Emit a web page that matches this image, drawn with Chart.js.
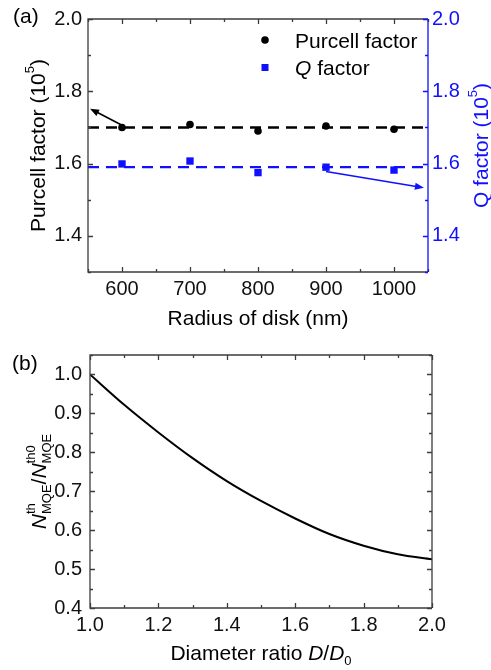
<!DOCTYPE html>
<html>
<head>
<meta charset="utf-8">
<script src="https://cdn.jsdelivr.net/npm/chart.js@4.4.0/dist/chart.umd.min.js"></script>
<style>
	body { margin: 0; background: #fff; }
	.wrap { position: relative; width: 491px; height: 670px; }
	canvas { position: absolute; left: 0; }
	#chartA { top: 0; }
	#chartB { top: 330px; }
</style>
</head>
<body>
<div class="wrap">
	<canvas id="chartA" width="491" height="330"></canvas>
	<canvas id="chartB" width="491" height="340"></canvas>
</div>
<script>
/* panel (a) data */
const radius = [600, 700, 800, 900, 1000]
const purcell = [1.700, 1.708, 1.690, 1.704, 1.695]
const qFactor = [1.599, 1.607, 1.575, 1.590, 1.582]
const purcellLevel = 1.70
const qLevel = 1.59
const radiusRange = [550, 1050]
const radiusTicks = [600, 700, 800, 900, 1000]
const factorRange = [1.3, 2.0]
const factorTicks = [1.4, 1.6, 1.8, 2.0]
const purcellArrow = [600, 1.706, 553, 1.752]
const qArrow = [900, 1.578, 1044, 1.533]

/* panel (b) data */
const ratio = [1.0, 1.1, 1.2, 1.3, 1.4, 1.5, 1.6, 1.7, 1.8, 1.9, 2.0]
const threshold = [1.000, 0.922, 0.851, 0.785, 0.726, 0.675, 0.630, 0.590, 0.560, 0.538, 0.525]
const ratioTicks = [1.0, 1.2, 1.4, 1.6, 1.8, 2.0]
const thresholdRange = [0.4, 1.05]
const thresholdTicks = [0.4, 0.5, 0.6, 0.7, 0.8, 0.9, 1.0]

const FONT = '"Liberation Sans", Arial, sans-serif'
const BLUE = '#1010ff'
const AXIS = '#3c3c3c'

Chart.defaults.font.family = FONT

function setFont(ctx, size, italic) {
	ctx.font = (italic ? 'italic ' : '') + size + 'px ' + FONT
}

// parts: {t, s, it, dy} or stacked {sup, sub, s, up, dn}
function partWidth(ctx, p) {
	if (p.sup !== undefined) {
		setFont(ctx, p.s)
		return Math.max(ctx.measureText(p.sup).width, ctx.measureText(p.sub).width)
	}
	setFont(ctx, p.s, p.it)
	return ctx.measureText(p.t).width
}

function drawRich(ctx, parts, x, y, rot, color, align) {
	ctx.save()
	ctx.translate(x, y)
	ctx.rotate(rot)
	ctx.fillStyle = color
	ctx.textAlign = 'left'
	ctx.textBaseline = 'alphabetic'
	var total = 0
	parts.forEach(function (p) { total += partWidth(ctx, p) })
	var cx = align === 'left' ? 0 : -total / 2
	var base = 7.5
	parts.forEach(function (p) {
		var w = partWidth(ctx, p)
		if (p.sup !== undefined) {
			setFont(ctx, p.s)
			ctx.fillText(p.sup, cx, base + p.up)
			ctx.fillText(p.sub, cx, base + p.dn)
		} else {
			setFont(ctx, p.s, p.it)
			ctx.fillText(p.t, cx, base + (p.dy || 0))
		}
		cx += w
	})
	ctx.restore()
}

function drawArrow(ctx, x0, y0, x1, y1, color) {
	var ang = Math.atan2(y1 - y0, x1 - x0)
	var c = Math.cos(ang)
	var s = Math.sin(ang)
	var head = 9
	var half = 3.5
	ctx.save()
	ctx.strokeStyle = color
	ctx.fillStyle = color
	ctx.lineWidth = 1.6
	ctx.beginPath()
	ctx.moveTo(x0, y0)
	ctx.lineTo(x1 - head * 0.7 * c, y1 - head * 0.7 * s)
	ctx.stroke()
	ctx.beginPath()
	ctx.moveTo(x1, y1)
	ctx.lineTo(x1 - head * c + half * s, y1 - head * s - half * c)
	ctx.lineTo(x1 - head * c - half * s, y1 - head * s + half * c)
	ctx.closePath()
	ctx.fill()
	ctx.restore()
}

// frame with inward major and minor ticks
const frameTicks = {
	id: 'frameTicks',
	afterDraw(chart, args, opts) {
		var ctx = chart.ctx
		var a = chart.chartArea
		var xs = chart.scales.x
		var ys = chart.scales.y
		ctx.save()
		ctx.lineWidth = 1.3

		function tickList(scale, majors, step) {
			var list = majors.map(function (v) { return { v: v, len: 5 } })
			var n = Math.round((scale.max - scale.min) / step)
			for (var i = 0; i <= n; i++) {
				var v = scale.min + i * step
				var isMajor = majors.some(function (m) { return Math.abs(m - v) < step / 10 })
				if (!isMajor) list.push({ v: v, len: 3 })
			}
			return list
		}

		ctx.strokeStyle = AXIS
		ctx.beginPath()
		tickList(xs, opts.xMajor, opts.xMinor).forEach(function (t) {
			var px = Math.round(xs.getPixelForValue(t.v)) + 0.5
			ctx.moveTo(px, a.bottom)
			ctx.lineTo(px, a.bottom - t.len)
			ctx.moveTo(px, a.top)
			ctx.lineTo(px, a.top + t.len)
		})
		var yt = tickList(ys, opts.yMajor, opts.yMinor)
		yt.forEach(function (t) {
			var py = Math.round(ys.getPixelForValue(t.v)) + 0.5
			ctx.moveTo(a.left, py)
			ctx.lineTo(a.left + t.len, py)
		})
		ctx.moveTo(a.right, a.top)
		ctx.lineTo(a.left, a.top)
		ctx.lineTo(a.left, a.bottom)
		ctx.lineTo(a.right, a.bottom)
		ctx.stroke()

		ctx.strokeStyle = opts.rightColor
		ctx.beginPath()
		yt.forEach(function (t) {
			var py = Math.round(ys.getPixelForValue(t.v)) + 0.5
			ctx.moveTo(a.right, py)
			ctx.lineTo(a.right - t.len, py)
		})
		ctx.moveTo(a.right, a.top)
		ctx.lineTo(a.right, a.bottom)
		ctx.stroke()
		ctx.restore()
	},
}

const decorA = {
	id: 'decorA',
	afterDraw(chart) {
		var ctx = chart.ctx
		var xs = chart.scales.x
		var ys = chart.scales.y
		var y1 = chart.scales.y1

		drawArrow(ctx,
			xs.getPixelForValue(purcellArrow[0]), ys.getPixelForValue(purcellArrow[1]),
			xs.getPixelForValue(purcellArrow[2]), ys.getPixelForValue(purcellArrow[3]), '#000')
		drawArrow(ctx,
			xs.getPixelForValue(qArrow[0]), y1.getPixelForValue(qArrow[1]),
			xs.getPixelForValue(qArrow[2]), y1.getPixelForValue(qArrow[3]), BLUE)

		// legend
		var names = chart.data.datasets
		ctx.save()
		ctx.fillStyle = '#000'
		ctx.beginPath()
		ctx.arc(265, 40, 3.8, 0, Math.PI * 2)
		ctx.fill()
		ctx.fillStyle = BLUE
		ctx.fillRect(261.5, 64, 7, 7)
		ctx.restore()
		drawRich(ctx, [{ t: names[0].label, s: 21 }], 295, 40, 0, '#000', 'left')
		drawRich(ctx, [{ t: 'Q', s: 21, it: true }, { t: ' factor', s: 21 }], 295, 67.5, 0, '#000', 'left')

		// axis titles
		var a = chart.chartArea
		var cy = (a.top + a.bottom) / 2
		drawRich(ctx, [{ t: 'Purcell factor (10', s: 21 }, { t: '5', s: 13, dy: -11 }, { t: ')', s: 21 }],
			37, cy, -Math.PI / 2, '#000')
		drawRich(ctx, [{ t: 'Q factor (10', s: 21 }, { t: '5', s: 13, dy: -11 }, { t: ')', s: 21 }],
			480, cy, -Math.PI / 2, BLUE)
		drawRich(ctx, [{ t: 'Radius of disk (nm)', s: 21 }], (a.left + a.right) / 2, 317, 0, '#000')
		drawRich(ctx, [{ t: '(a)', s: 21 }], 13, 15, 0, '#000', 'left')
	},
}

const decorB = {
	id: 'decorB',
	afterDraw(chart) {
		var ctx = chart.ctx
		var a = chart.chartArea
		var cy = (a.top + a.bottom) / 2
		drawRich(ctx, [
			{ t: 'N', s: 21, it: true },
			{ sup: 'th', sub: 'MQE', s: 13, up: -11, dn: 5 },
			{ t: '/', s: 21 },
			{ t: 'N', s: 21, it: true },
			{ sup: 'th0', sub: 'MQE', s: 13, up: -11, dn: 5 },
		], 38, cy, -Math.PI / 2, '#000')
		drawRich(ctx, [
			{ t: 'Diameter ratio ', s: 21 },
			{ t: 'D', s: 21, it: true },
			{ t: '/', s: 21 },
			{ t: 'D', s: 21, it: true },
			{ t: '0', s: 13, dy: 5 },
		], (a.left + a.right) / 2, 322, 0, '#000')
		drawRich(ctx, [{ t: '(b)', s: 21 }], 12, 32, 0, '#000', 'left')
	},
}

function fixedTicks(list) {
	return function (scale) {
		scale.ticks = list.map(function (v) { return { value: v } })
	}
}

const tickFont = { size: 20, family: FONT }

new Chart(document.getElementById('chartA'), {
	type: 'scatter',
	data: {
		datasets: [
			{
				label: 'Purcell factor',
				data: radius.map(function (r, i) { return { x: r, y: purcell[i] } }),
				yAxisID: 'y',
				pointStyle: 'circle',
				pointRadius: 3.8,
				backgroundColor: '#000',
				borderWidth: 0,
			},
			{
				label: 'Q factor',
				data: radius.map(function (r, i) { return { x: r, y: qFactor[i] } }),
				yAxisID: 'y1',
				pointStyle: 'rect',
				pointRadius: 5.2,
				backgroundColor: BLUE,
				borderWidth: 0,
			},
			{
				label: 'Purcell level',
				data: radiusRange.map(function (r) { return { x: r, y: purcellLevel } }),
				yAxisID: 'y',
				showLine: true,
				borderColor: '#000',
				borderDash: [11, 7],
				borderWidth: 2.5,
				pointRadius: 0,
			},
			{
				label: 'Q level',
				data: radiusRange.map(function (r) { return { x: r, y: qLevel } }),
				yAxisID: 'y1',
				showLine: true,
				borderColor: BLUE,
				borderDash: [11, 7],
				borderWidth: 2.2,
				pointRadius: 0,
			},
		],
	},
	options: {
		responsive: false,
		animation: false,
		layout: { padding: { top: 19, left: 0, right: 0, bottom: 0 } },
		scales: {
			x: {
				type: 'linear',
				min: radiusRange[0],
				max: radiusRange[1],
				afterBuildTicks: fixedTicks(radiusTicks),
				afterFit: function (s) { s.height = 58 },
				grid: { display: false, drawTicks: false },
				border: { display: false },
				ticks: { font: tickFont, color: '#111', padding: 5, maxRotation: 0, callback: function (v) { return String(v) } },
			},
			y: {
				position: 'left',
				min: factorRange[0],
				max: factorRange[1],
				afterBuildTicks: fixedTicks(factorTicks),
				afterFit: function (s) { s.width = 88 },
				grid: { display: false, drawTicks: false },
				border: { display: false },
				ticks: { font: tickFont, color: '#111', padding: 6, callback: function (v) { return v.toFixed(1) } },
			},
			y1: {
				position: 'right',
				min: factorRange[0],
				max: factorRange[1],
				afterBuildTicks: fixedTicks(factorTicks),
				afterFit: function (s) { s.width = 63 },
				grid: { display: false, drawTicks: false },
				border: { display: false },
				ticks: { font: tickFont, color: BLUE, padding: 4, callback: function (v) { return v.toFixed(1) } },
			},
		},
		plugins: {
			legend: { display: false },
			tooltip: { enabled: false },
			frameTicks: { xMajor: radiusTicks, xMinor: 50, yMajor: factorTicks, yMinor: 0.1, rightColor: BLUE },
		},
	},
	plugins: [frameTicks, decorA],
})

new Chart(document.getElementById('chartB'), {
	type: 'scatter',
	data: {
		datasets: [
			{
				label: 'threshold',
				data: ratio.map(function (r, i) { return { x: r, y: threshold[i] } }),
				showLine: true,
				cubicInterpolationMode: 'monotone',
				borderColor: '#000',
				borderWidth: 2,
				pointRadius: 0,
			},
		],
	},
	options: {
		responsive: false,
		animation: false,
		layout: { padding: { top: 25, left: 0, right: 59, bottom: 0 } },
		scales: {
			x: {
				type: 'linear',
				min: ratio[0],
				max: ratio[ratio.length - 1],
				afterBuildTicks: fixedTicks(ratioTicks),
				afterFit: function (s) { s.height = 62 },
				grid: { display: false, drawTicks: false },
				border: { display: false },
				ticks: { font: tickFont, color: '#111', padding: 5, maxRotation: 0, callback: function (v) { return v.toFixed(1) } },
			},
			y: {
				min: thresholdRange[0],
				max: thresholdRange[1],
				afterBuildTicks: fixedTicks(thresholdTicks),
				afterFit: function (s) { s.width = 90 },
				grid: { display: false, drawTicks: false },
				border: { display: false },
				ticks: { font: tickFont, color: '#111', padding: 8, callback: function (v) { return v.toFixed(1) } },
			},
		},
		plugins: {
			legend: { display: false },
			tooltip: { enabled: false },
			frameTicks: { xMajor: ratioTicks, xMinor: 0.1, yMajor: thresholdTicks, yMinor: 0.05, rightColor: AXIS },
		},
	},
	plugins: [frameTicks, decorB],
})
</script>
</body>
</html>
